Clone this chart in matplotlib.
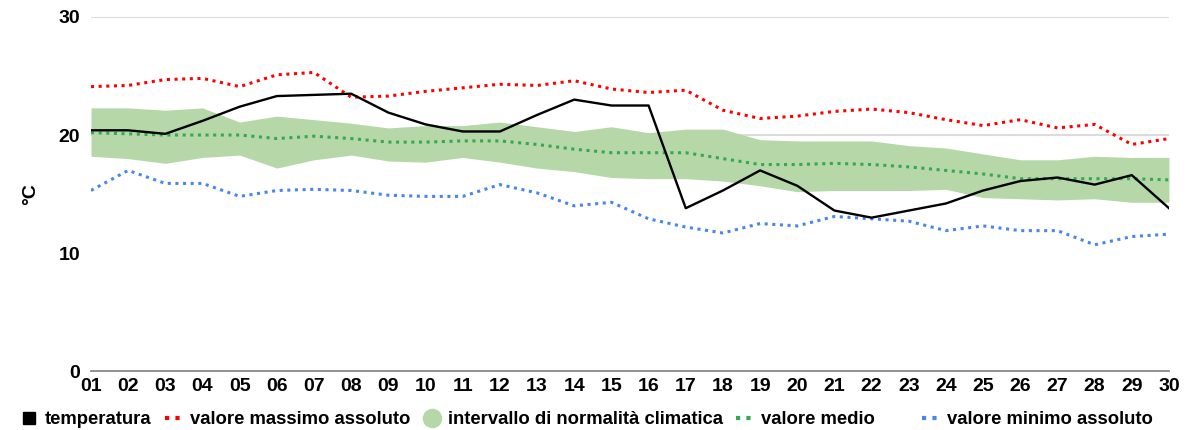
import matplotlib
matplotlib.use("Agg")
import matplotlib.pyplot as plt
from matplotlib.lines import Line2D

plt.rcParams['font.family'] = ['Liberation Sans', 'DejaVu Sans']

giorni = ["%02d" % d for d in range(1, 31)]

temperatura = [20.4, 20.4, 20.1, 21.2, 22.4, 23.3, 23.4, 23.5, 21.9, 20.9,
               20.3, 20.3, 21.7, 23.0, 22.5, 22.5, 13.8, 15.3, 17.0, 15.7,
               13.6, 13.0, 13.6, 14.2, 15.3, 16.1, 16.4, 15.8, 16.6, 13.8]

massimo = [24.1, 24.2, 24.7, 24.8, 24.1, 25.1, 25.3, 23.2, 23.3, 23.7,
           24.0, 24.3, 24.2, 24.6, 23.9, 23.6, 23.8, 22.1, 21.4, 21.6,
           22.0, 22.2, 21.9, 21.3, 20.8, 21.3, 20.6, 20.9, 19.2, 19.7]

medio = [20.2, 20.1, 20.0, 20.0, 20.0, 19.7, 19.9, 19.7, 19.4, 19.4,
         19.5, 19.5, 19.2, 18.8, 18.5, 18.5, 18.5, 18.0, 17.5, 17.5,
         17.6, 17.5, 17.3, 17.0, 16.7, 16.3, 16.3, 16.3, 16.3, 16.2]

minimo = [15.3, 17.0, 15.9, 15.9, 14.8, 15.3, 15.4, 15.3, 14.9, 14.8,
          14.8, 15.8, 15.1, 14.0, 14.3, 12.9, 12.2, 11.7, 12.5, 12.3,
          13.1, 12.9, 12.7, 11.9, 12.3, 11.9, 11.9, 10.7, 11.4, 11.6]

norma_sup = [22.3, 22.3, 22.1, 22.3, 21.1, 21.6, 21.3, 21.0, 20.6, 20.8,
             20.8, 21.1, 20.7, 20.3, 20.7, 20.2, 20.5, 20.5, 19.6, 19.5,
             19.5, 19.5, 19.1, 18.9, 18.4, 17.9, 17.9, 18.2, 18.1, 18.1]

norma_inf = [18.2, 18.0, 17.6, 18.1, 18.3, 17.2, 17.9, 18.3, 17.8, 17.7,
             18.1, 17.7, 17.2, 16.9, 16.4, 16.3, 16.3, 16.1, 15.7, 15.2,
             15.3, 15.3, 15.3, 15.4, 14.7, 14.6, 14.5, 14.6, 14.3, 14.3]

x = list(range(len(giorni)))

fig = plt.figure(figsize=(11.88, 4.30), dpi=100)
ax = fig.add_axes([0.0766, 0.137, 0.9074, 0.8235])

for yv in (20, 30):
    ax.axhline(yv, color='#dcdcdc', lw=1.5, zorder=0)

ax.fill_between(x, norma_inf, norma_sup, color='#b6d7a8', lw=0, zorder=1)
dot = (0, (1, 1.5))
ax.plot(x, medio, color='#34a853', lw=2.2, ls=dot, zorder=2)
ax.plot(x, massimo, color='#ff0000', lw=2.2, ls=dot, zorder=2)
ax.plot(x, minimo, color='#4a86e8', lw=2.2, ls=dot, zorder=2)
ax.plot(x, temperatura, color='#000000', lw=1.7, zorder=3)

ax.set_xlim(0, len(giorni) - 1)
ax.set_ylim(0, 30)
ax.set_xticks(x)
ax.set_xticklabels(giorni)
ax.set_yticks([0, 10, 20, 30])
for lab in ax.get_xticklabels() + ax.get_yticklabels():
    lab.set_fontweight('bold')
    lab.set_fontsize(14)
ax.tick_params(axis='x', length=0, pad=5)
ax.tick_params(axis='y', length=0, pad=8)

for s in ('top', 'right', 'left'):
    ax.spines[s].set_visible(False)
ax.spines['bottom'].set_color('#888888')
ax.spines['bottom'].set_linewidth(1.3)

ax.set_ylabel('°C', fontsize=14, fontweight='bold', labelpad=14)

handles = [
    Line2D([], [], color='black', marker='s', ls='none', markersize=9),
    Line2D([], [], color='#ff0000', lw=3, ls=(0, (1, 1.5))),
    Line2D([], [], color='#b6d7a8', marker='o', ls='none', markersize=13),
    Line2D([], [], color='#34a853', lw=3, ls=(0, (1, 1.5))),
    Line2D([], [], color='#4a86e8', lw=3, ls=(0, (1, 1.5))),
]
labels = ['temperatura', 'valore massimo assoluto',
          'intervallo di normalità climatica', 'valore medio',
          'valore minimo assoluto']
leg_kw = dict(frameon=False, handlelength=1.0, handletextpad=0.35,
              columnspacing=0.7, prop={'weight': 'bold', 'size': 13.3})
fig.legend(handles[:4], labels[:4], loc='lower left',
           bbox_to_anchor=(0.003, -0.035), ncol=4, **leg_kw)
fig.legend(handles[4:], labels[4:], loc='lower left',
           bbox_to_anchor=(0.762, -0.035), ncol=1, **leg_kw)

fig.savefig('out.png', dpi=100)
